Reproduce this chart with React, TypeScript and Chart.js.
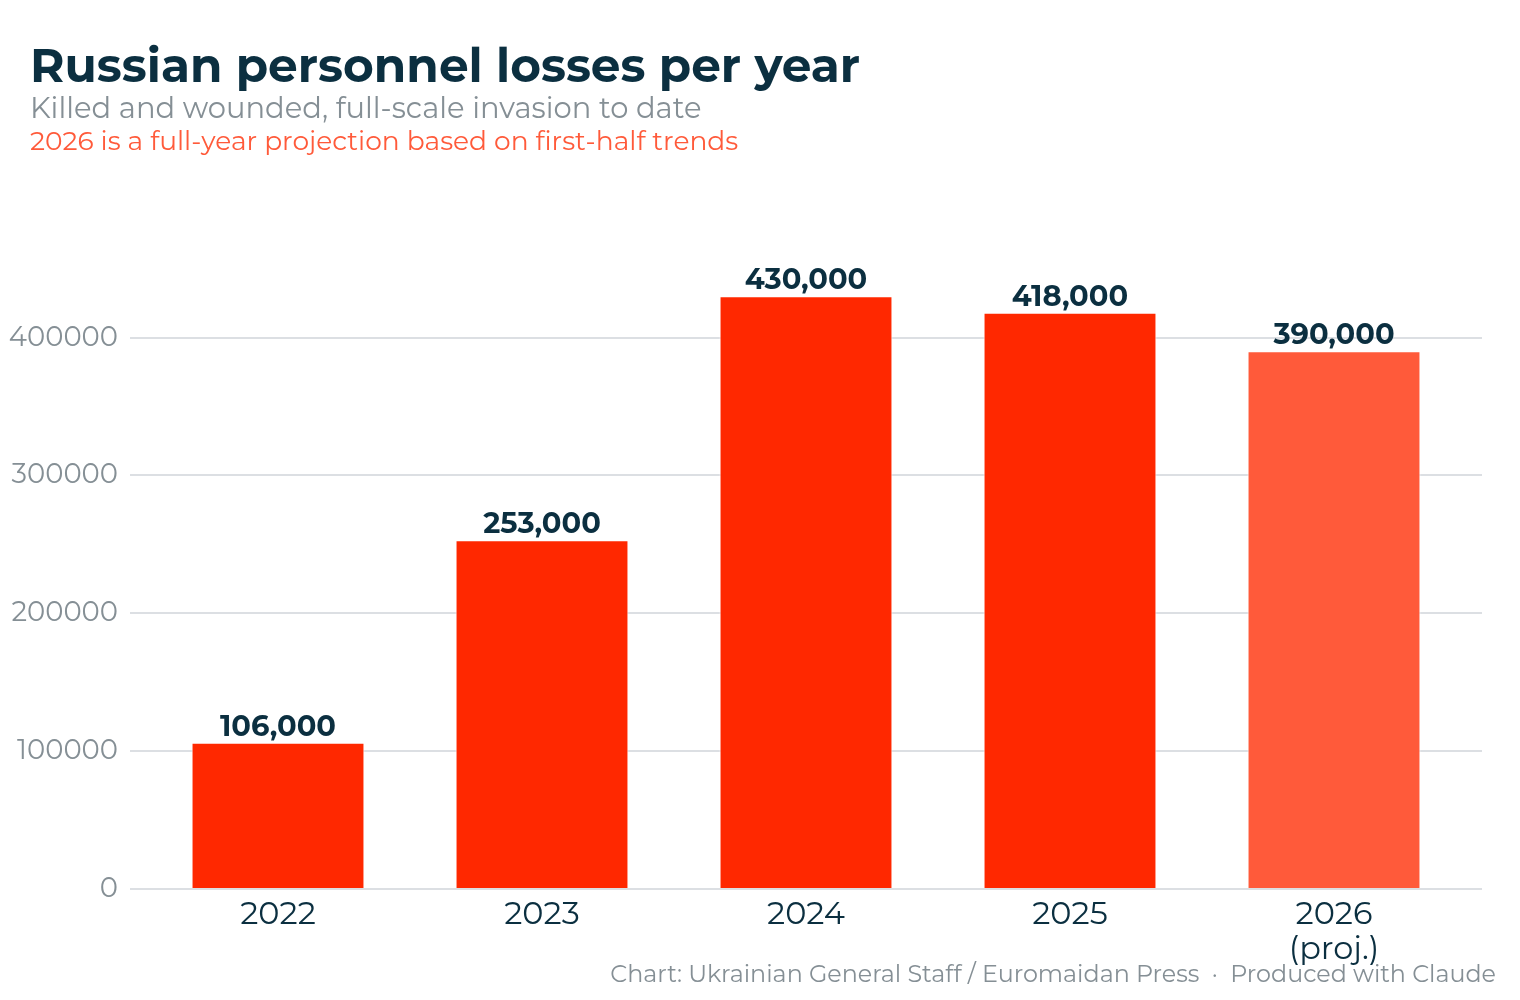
import React, { useEffect, useRef } from 'react';
import { Chart, registerables } from 'chart.js';

Chart.register(...registerables);

const years: (string | string[])[] = ['2022', '2023', '2024', '2025', ['2026', '(proj.)']];
const losses = [106000, 253000, 430000, 418000, 390000];
const barColors = ['#ff2800', '#ff2800', '#ff2800', '#ff2800', '#ff5a3a'];
const yTicks = [0, 100000, 200000, 300000, 400000];

const FONT = "Montserrat, 'Open Sans', 'Noto Sans', sans-serif";
const DARK = '#0b2f40';
const GREY = '#858f95';
const GRID = '#dcdfe3';

const valueLabels = {
  id: 'valueLabels',
  afterDatasetsDraw(chart: any) {
    const ctx = chart.ctx;
    const meta = chart.getDatasetMeta(0);
    ctx.save();
    ctx.font = `bold 29px ${FONT}`;
    ctx.fillStyle = DARK;
    ctx.textAlign = 'center';
    ctx.textBaseline = 'bottom';
    meta.data.forEach((bar: any, i: number) => {
      ctx.fillText(losses[i].toLocaleString('en-US'), bar.x, bar.y - 1);
    });
    ctx.restore();
  },
};

export default function App() {
  const canvasRef = useRef<HTMLCanvasElement>(null);

  useEffect(() => {
    document.body.style.margin = '0';
    if (!canvasRef.current) return;
    const chart = new Chart(canvasRef.current, {
      type: 'bar',
      data: {
        labels: years,
        datasets: [
          {
            data: losses,
            backgroundColor: barColors,
            borderColor: '#ffffff',
            borderWidth: 1,
            barPercentage: 1,
            categoryPercentage: 0.655,
          },
        ],
      },
      options: {
        animation: false,
        responsive: false,
        layout: { padding: { top: 241, right: 38, bottom: 0, left: 0 } },
        plugins: { legend: { display: false }, tooltip: { enabled: false } },
        scales: {
          x: {
            grid: { display: false },
            border: { display: false },
            ticks: {
              color: DARK,
              font: { size: 32, family: FONT, lineHeight: 1.1 },
              padding: 0,
            },
            afterFit: (s: any) => { s.height = 111; },
          },
          y: {
            min: 0,
            max: 470000,
            border: { display: false },
            grid: { color: GRID, lineWidth: 2, drawTicks: true, tickLength: 16 },
            ticks: {
              stepSize: 100000,
              color: GREY,
              font: { size: 27.5, family: FONT },
              padding: 12,
              callback: (v: any) => String(v),
            },
            afterBuildTicks: (s: any) => {
              s.ticks = yTicks.map((value) => ({ value }));
            },
            afterFit: (s: any) => { s.width = 146; },
          },
          y2: {
            position: 'right',
            min: 0,
            max: 470000,
            border: { display: false },
            grid: { color: GRID, lineWidth: 2, drawOnChartArea: false, drawTicks: true, tickLength: 16 },
            ticks: { display: false },
            afterBuildTicks: (s: any) => {
              s.ticks = yTicks.map((value) => ({ value }));
            },
            afterFit: (s: any) => { s.width = 16; },
          },
        },
      },
      plugins: [valueLabels],
    });
    return () => chart.destroy();
  }, []);

  return (
    <div style={{ position: 'relative', width: 1520, height: 1000, background: '#fff', fontFamily: FONT }}>
      <canvas ref={canvasRef} width={1520} height={1000} style={{ position: 'absolute', left: 0, top: 0 }} />
      <div style={{ position: 'absolute', left: 30, top: 37, fontSize: 47, fontWeight: 700, color: DARK, whiteSpace: 'nowrap' }}>
        Russian personnel losses per year
      </div>
      <div style={{ position: 'absolute', left: 30, top: 90, fontSize: 29, color: GREY, whiteSpace: 'nowrap' }}>
        Killed and wounded, full-scale invasion to date
      </div>
      <div style={{ position: 'absolute', left: 30, top: 124, fontSize: 26.5, color: '#ff5a3a', whiteSpace: 'nowrap' }}>
        2026 is a full-year projection based on first-half trends
      </div>
      <div style={{ position: 'absolute', right: 24, top: 959, fontSize: 23.8, color: GREY, whiteSpace: 'nowrap' }}>
        Chart: Ukrainian General Staff / Euromaidan Press&nbsp;&nbsp;·&nbsp;&nbsp;Produced with Claude
      </div>
    </div>
  );
}
